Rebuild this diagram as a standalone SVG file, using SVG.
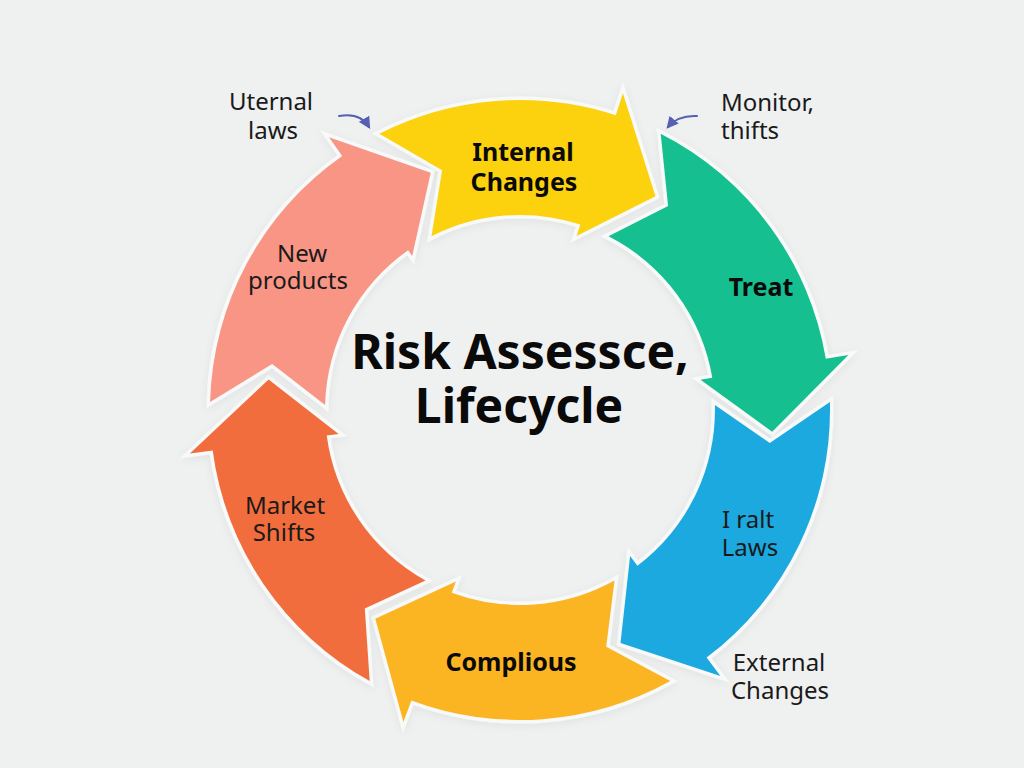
<svg xmlns="http://www.w3.org/2000/svg" width="1024" height="768" viewBox="0 0 1024 768">
<defs>
<style>
.seg{stroke:#f8f9f9;stroke-width:7;stroke-linejoin:miter;paint-order:stroke fill;filter:url(#glow)}
.lbl{font-family:"Noto Sans","Open Sans","Liberation Sans",sans-serif;font-size:24px;fill:#1a1a1a;text-anchor:middle}
.b{font-weight:700;font-size:25px;fill:#0a0a0a}
.ttl{font-family:"Noto Sans","Open Sans","Liberation Sans",sans-serif;font-size:48px;font-weight:700;fill:#0a0a0a;text-anchor:middle}
.note{fill:none;stroke:#5561b0;stroke-width:2;stroke-linecap:round;marker-end:url(#ah)}
</style>
<filter id="glow" x="-20%" y="-20%" width="140%" height="140%">
<feDropShadow dx="0" dy="2" stdDeviation="4" flood-color="#000" flood-opacity="0.06"/>
</filter>
<marker id="ah" viewBox="0 0 10 10" refX="8" refY="5" markerWidth="6" markerHeight="6" orient="auto" markerUnits="strokeWidth">
<path d="M0,0 L10,5 L0,10 Z" fill="#5561b0"/>
</marker>
</defs>
<rect width="1024" height="768" fill="#eff0f0"/>
<g id="node-internal-changes">
<path class="seg" fill="#fcd111" d="M379.3,133.8 A310,310 0 0 1 615.8,115.2 L622.9,93.3 L655.5,196.3 L576.5,235.9 L580.3,224.5 A195,195 0 0 0 431.5,236.3 L442.1,170.3 Z"/>
<text class="lbl b" x="523" y="161">Internal</text>
<text class="lbl b" x="524" y="191">Changes</text>
</g>
<g id="node-treat">
<path class="seg" fill="#13bf90" d="M660.7,133.8 A310,310 0 0 1 825.8,358.8 L848.4,355.1 L772.2,431.8 L700.5,379.8 L712.3,377.8 A195,195 0 0 0 608.5,236.3 L668.1,206.1 Z"/>
<text class="lbl b" x="761" y="296">Treat</text>
</g>
<g id="node-laws">
<path class="seg" fill="#1fa9df" d="M829.9,401.9 A310,310 0 0 1 706.6,657.6 L720.4,675.9 L620.5,643.1 L630.1,556.1 L637.4,565.7 A195,195 0 0 0 714.9,404.9 L769.8,442.9 Z"/>
<text class="lbl" x="748" y="528">I ralt</text>
<text class="lbl" x="750" y="556">Laws</text>
</g>
<g id="node-complious">
<path class="seg" fill="#fbb423" d="M670.3,681.1 A310,310 0 0 1 411.4,700.4 L403.4,721.9 L375.3,618.7 L455.9,581.4 L451.7,592.7 A195,195 0 0 0 614.5,580.5 L606.2,646.8 Z"/>
<text class="lbl b" x="511" y="671">Complious</text>
</g>
<g id="node-market-shifts">
<path class="seg" fill="#f26d3c" d="M369.7,681.1 A310,310 0 0 1 212.7,450.5 L189.9,453.5 L268.6,379.5 L338.6,433.9 L326.7,435.4 A195,195 0 0 0 425.5,580.5 L364.8,608.6 Z"/>
<text class="lbl" x="285" y="514">Market</text>
<text class="lbl" x="284" y="541">Shifts</text>
</g>
<g id="node-new-products">
<path class="seg" fill="#f99584" d="M210.1,401.9 A310,310 0 0 1 342.2,156.0 L329.0,137.2 L430.7,172.7 L412.2,256.0 L408.1,250.3 A195,195 0 0 0 325.1,404.9 L272.2,364.1 Z"/>
<text class="lbl" x="302" y="262">New</text>
<text class="lbl" x="298" y="289">products</text>
</g>
<g id="title">
<text class="ttl" x="520" y="369">Risk Assessce,</text>
<text class="ttl" x="519" y="423">Lifecycle</text>
</g>
<g id="note-uternal-laws">
<text class="lbl" x="271" y="110">Uternal</text>
<text class="lbl" x="273" y="139">laws</text>
</g>
<g id="note-monitor-thifts">
<text class="lbl" x="721" y="111" style="text-anchor:start">Monitor,</text>
<text class="lbl" x="721" y="139" style="text-anchor:start">thifts</text>
</g>
<g id="note-external-changes">
<text class="lbl" x="779" y="671">External</text>
<text class="lbl" x="780" y="699">Changes</text>
</g>
<g id="connectors">
<path class="note" d="M339,116 Q360,112 369,127"/>
<path class="note" d="M697,116 Q678,115 668,127"/>
</g>
</svg>
